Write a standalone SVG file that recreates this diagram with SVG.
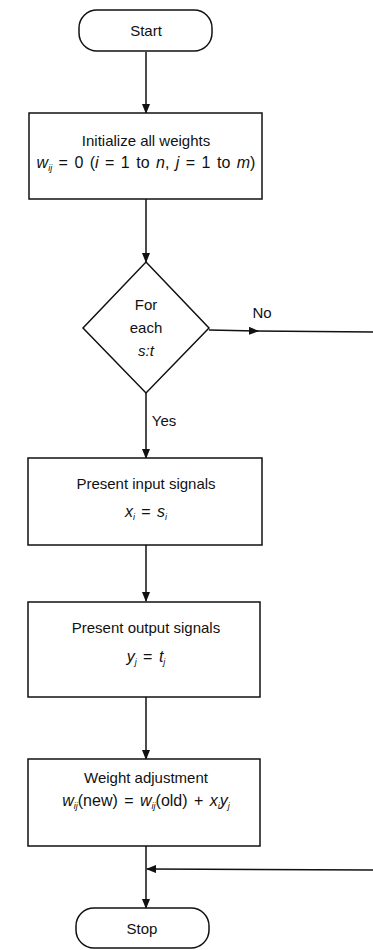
<svg xmlns="http://www.w3.org/2000/svg" width="373" height="950" viewBox="0 0 373 950">
<style>
.s{fill:#fff;stroke:#111;stroke-width:1.5}
.t{font-family:"Liberation Sans",Arial,sans-serif;font-size:15px;fill:#111;text-anchor:middle}
.f{font-size:16px;word-spacing:2px}
.i{font-style:italic}
.sub{font-size:9px;font-style:italic}
.c{stroke:#111;stroke-width:1.5;fill:none}
</style>
<defs>
<marker id="ah" markerWidth="10" markerHeight="8" refX="9" refY="4" orient="auto" markerUnits="userSpaceOnUse">
<path d="M0,0 L10,4 L0,8 Z" fill="#111"/>
</marker>
</defs>
<rect width="373" height="950" fill="#fff"/>
<g id="connectors">
<line class="c" x1="146" y1="52" x2="146" y2="113" marker-end="url(#ah)"/>
<line class="c" x1="146" y1="199" x2="146" y2="262" marker-end="url(#ah)"/>
<line class="c" x1="146" y1="393" x2="146" y2="458" marker-end="url(#ah)"/>
<line class="c" x1="146" y1="545" x2="146" y2="601" marker-end="url(#ah)"/>
<line class="c" x1="146" y1="697" x2="146" y2="759" marker-end="url(#ah)"/>
<line class="c" x1="146" y1="846" x2="146" y2="908" marker-end="url(#ah)"/>
<line class="c" x1="209" y1="330" x2="258" y2="331" marker-end="url(#ah)"/>
<line class="c" x1="256" y1="331" x2="373" y2="332"/>
<line class="c" x1="373" y1="870" x2="147" y2="869" marker-end="url(#ah)"/>
<text class="t" x="262" y="318">No</text>
<text class="t" x="164" y="426">Yes</text>
</g>
<g id="start">
<rect class="s" x="79" y="10" width="133" height="41" rx="18"/>
<text class="t" x="146" y="36">Start</text>
</g>
<g id="init">
<rect class="s" x="29" y="113" width="233" height="86"/>
<text class="t" x="146" y="146">Initialize all weights</text>
<text class="t f" x="146" y="168"><tspan class="i">w</tspan><tspan class="sub" dy="3">ij</tspan><tspan dy="-3"> = 0 (</tspan><tspan class="i">i</tspan> = 1 to <tspan class="i">n</tspan>, <tspan class="i">j</tspan> = 1 to <tspan class="i">m</tspan>)</text>
</g>
<g id="decision">
<polygon class="s" points="146,262 209,328 146,393 83,328"/>
<text class="t" x="146" y="310">For</text>
<text class="t" x="146" y="333">each</text>
<text class="t i" x="146" y="356">s:t</text>
</g>
<g id="input">
<rect class="s" x="28" y="458" width="234" height="87"/>
<text class="t" x="146" y="489">Present input signals</text>
<text class="t f" x="146" y="517"><tspan class="i">x</tspan><tspan class="sub" dy="3">i</tspan><tspan dy="-3"> = </tspan><tspan class="i">s</tspan><tspan class="sub" dy="3">i</tspan></text>
</g>
<g id="output">
<rect class="s" x="28" y="602" width="232" height="95"/>
<text class="t" x="146" y="633">Present output signals</text>
<text class="t f" x="146" y="662"><tspan class="i">y</tspan><tspan class="sub" dy="3">j</tspan><tspan dy="-3"> = </tspan><tspan class="i">t</tspan><tspan class="sub" dy="3">j</tspan></text>
</g>
<g id="adjust">
<rect class="s" x="28" y="759" width="232" height="87"/>
<text class="t" x="146" y="783">Weight adjustment</text>
<text class="t f" x="146" y="806"><tspan class="i">w</tspan><tspan class="sub" dy="3">ij</tspan><tspan dy="-3">(new) = </tspan><tspan class="i">w</tspan><tspan class="sub" dy="3">ij</tspan><tspan dy="-3">(old) + </tspan><tspan class="i">x</tspan><tspan class="sub" dy="3">i</tspan><tspan dy="-3" class="i">y</tspan><tspan class="sub" dy="3">j</tspan></text>
</g>
<g id="stop">
<rect class="s" x="76" y="908" width="133" height="40" rx="18"/>
<text class="t" x="142" y="934">Stop</text>
</g>
</svg>
